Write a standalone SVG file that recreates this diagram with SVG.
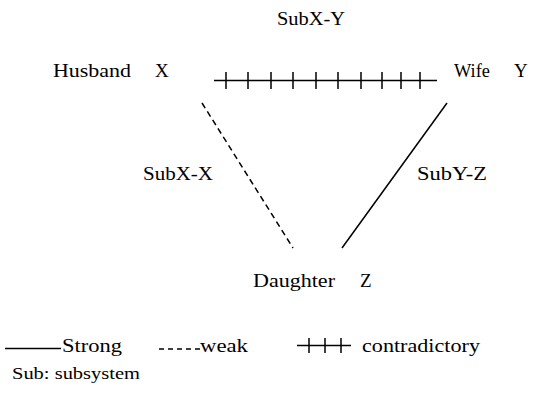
<svg xmlns="http://www.w3.org/2000/svg" width="533" height="393" viewBox="0 0 533 393">
<style>
.t{font-family:"Liberation Serif","Times New Roman",serif;font-size:19px;fill:#000}
.ln{stroke:#000;stroke-width:1.5;fill:none}
.dash{stroke-dasharray:6,4}
</style>
<rect width="533" height="393" fill="#fff"/>
<g id="connectors">
<line class="ln" x1="214" y1="80.5" x2="437" y2="80.5"/>
<path class="ln" d="M226 72V89M248 72V89M271 72V89M293 72V89M316 72V89M338 72V89M361 72V89M382 72V89M401 72V89M420 72V89"/>
<line class="ln dash" x1="202" y1="103" x2="293" y2="248"/>
<line class="ln" x1="447" y1="103" x2="342" y2="248"/>
<text class="t" x="277" y="25" textLength="68" lengthAdjust="spacingAndGlyphs">SubX-Y</text>
<text class="t" x="143" y="180" textLength="70" lengthAdjust="spacingAndGlyphs">SubX-X</text>
<text class="t" x="417" y="180" textLength="70" lengthAdjust="spacingAndGlyphs">SubY-Z</text>
</g>
<g id="husband"><text class="t" x="53" y="77" textLength="78" lengthAdjust="spacingAndGlyphs">Husband</text><text class="t" x="155" y="77">X</text></g>
<g id="wife"><text class="t" x="454" y="77" textLength="36" lengthAdjust="spacingAndGlyphs">Wife</text><text class="t" x="514" y="77">Y</text></g>
<g id="daughter"><text class="t" x="253" y="287" textLength="82" lengthAdjust="spacingAndGlyphs">Daughter</text><text class="t" x="360" y="287">Z</text></g>
<g id="legend">
<line class="ln" x1="5" y1="348.5" x2="61" y2="348.5"/>
<text class="t" x="62" y="352" textLength="60" lengthAdjust="spacingAndGlyphs">Strong</text>
<line class="ln" x1="159" y1="349" x2="200" y2="349" stroke-dasharray="5,4"/>
<text class="t" x="200" y="352" textLength="48" lengthAdjust="spacingAndGlyphs">weak</text>
<line class="ln" x1="297" y1="345.5" x2="351" y2="345.5"/>
<path class="ln" d="M309 338V353M325 338V353M341 338V353"/>
<text class="t" x="362" y="352" textLength="118" lengthAdjust="spacingAndGlyphs">contradictory</text>
<text class="t" x="12" y="379" style="font-size:17px" textLength="128" lengthAdjust="spacingAndGlyphs">Sub: subsystem</text>
</g>
</svg>
